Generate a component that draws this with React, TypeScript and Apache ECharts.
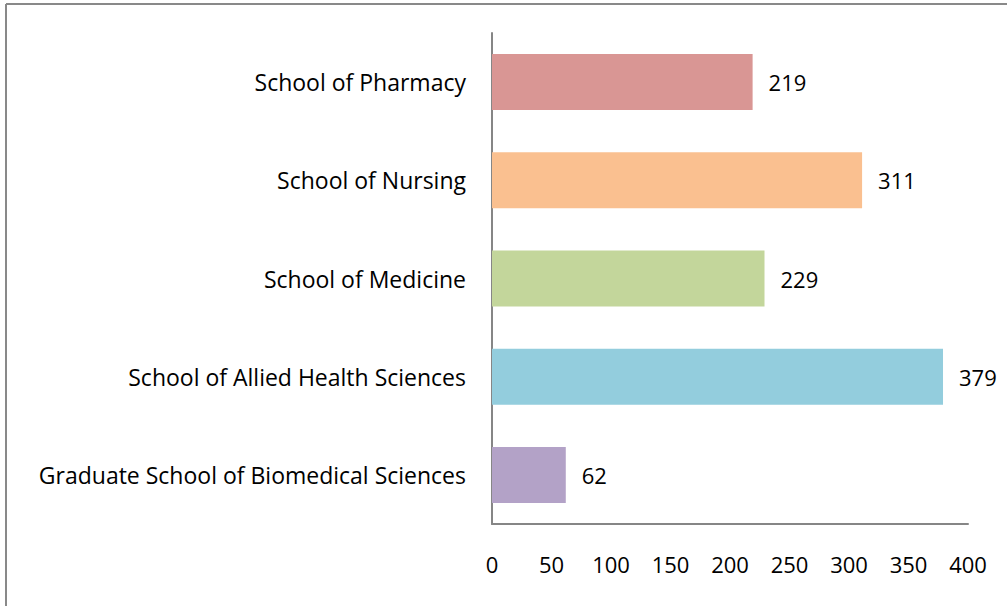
import React, { useEffect, useRef } from "react";
import * as echarts from "echarts";

const categories = [
  "Graduate School of Biomedical Sciences",
  "School of Allied Health Sciences",
  "School of Medicine",
  "School of Nursing",
  "School of Pharmacy",
];
const values = [62, 379, 229, 311, 219];
const colors = ["#B3A2C7", "#93CDDD", "#C3D69B", "#FAC090", "#D99694"];
const xTicks = [0, 50, 100, 150, 200, 250, 300, 350, 400];

export default function App() {
  const ref = useRef<HTMLDivElement>(null);
  useEffect(() => {
    const chart = echarts.init(ref.current!, null, { renderer: "svg" });
    const font = "'Open Sans', sans-serif";
    chart.setOption({
      animation: false,
      backgroundColor: "#ffffff",
      graphic: [
        { type: "line", shape: { x1: 6, y1: 4, x2: 6, y2: 606 }, style: { stroke: "#898989", lineWidth: 2 } },
        { type: "line", shape: { x1: 6, y1: 4, x2: 1007, y2: 4 }, style: { stroke: "#898989", lineWidth: 2 } },
      ],
      grid: { left: 492, right: 39, top: 33, bottom: 82 },
      xAxis: {
        type: "value",
        min: xTicks[0],
        max: xTicks[xTicks.length - 1],
        interval: 50,
        splitLine: { show: false },
        axisLine: { show: true, lineStyle: { color: "#868686", width: 2 } },
        axisTick: { show: false },
        axisLabel: { color: "#000", fontSize: 22, fontFamily: font, margin: 29 },
      },
      yAxis: {
        type: "category",
        data: categories,
        axisLine: { show: true, lineStyle: { color: "#868686", width: 2 } },
        axisTick: { show: false },
        axisLabel: { color: "#000", fontSize: 23, fontFamily: font, margin: 26 },
      },
      series: [
        {
          type: "bar",
          data: values.map((v, i) => ({ value: v, itemStyle: { color: colors[i] } })),
          barWidth: "57%",
          label: {
            show: true,
            position: "right",
            distance: 16,
            color: "#000",
            fontSize: 22,
            fontFamily: font,
          },
        },
      ],
    });
    return () => chart.dispose();
  }, []);
  return (
    <div
      ref={ref}
      style={{ position: "fixed", left: 0, top: 0, width: 1007, height: 606 }}
    />
  );
}
